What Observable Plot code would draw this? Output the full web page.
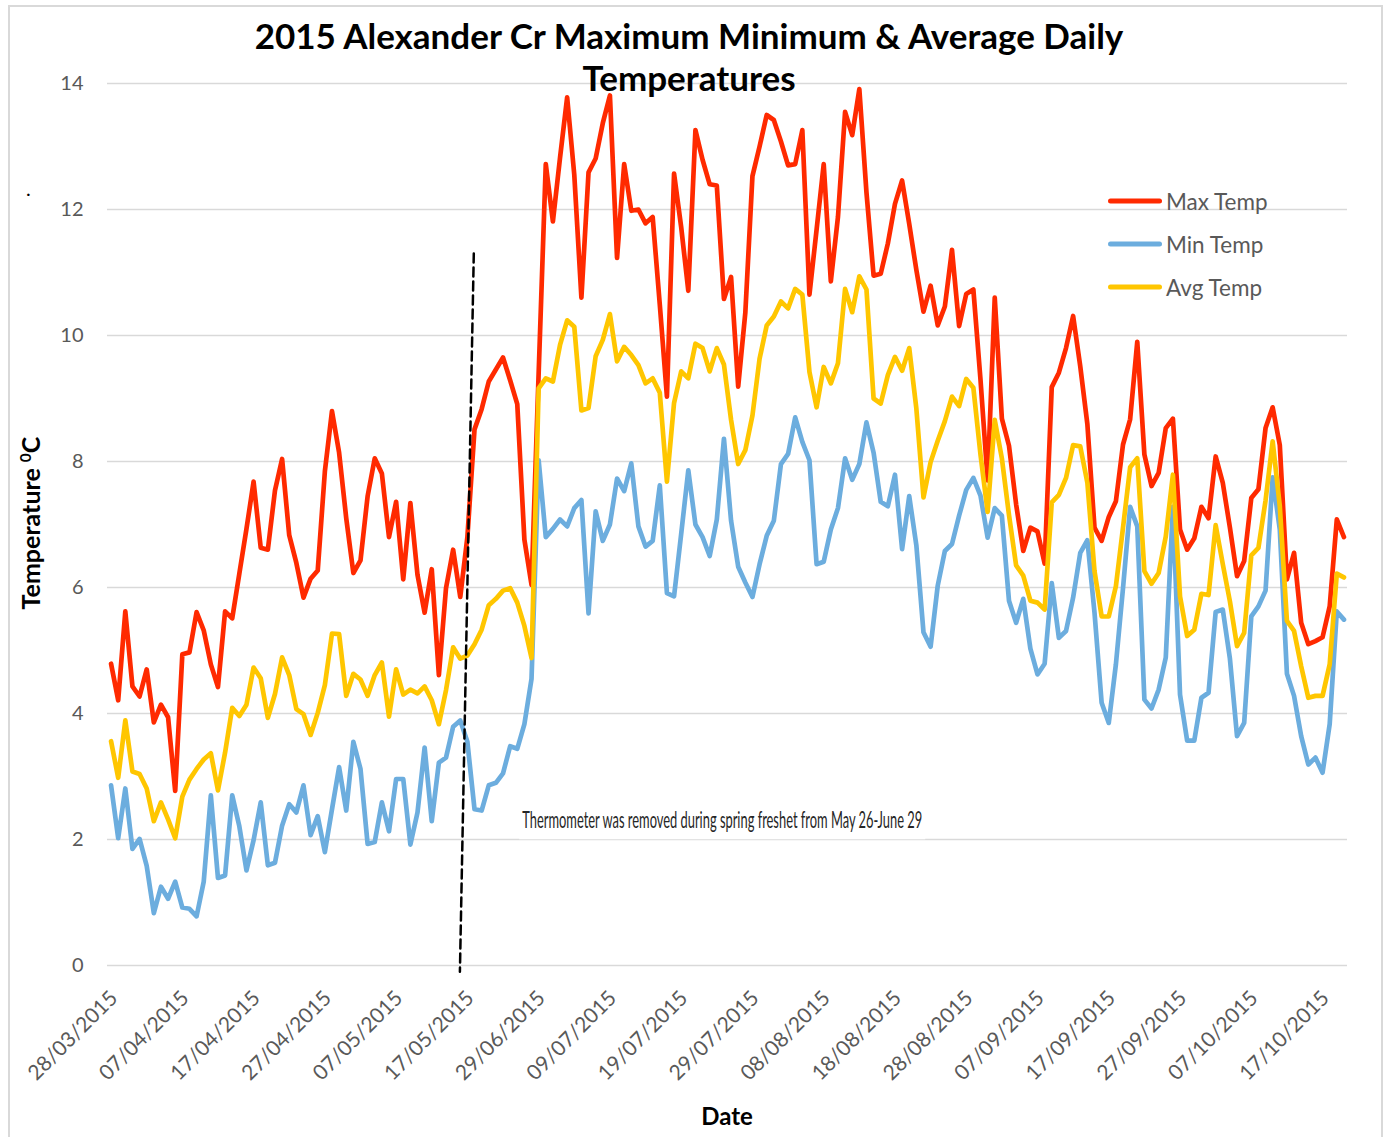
<!DOCTYPE html>
<html>
<head>
<meta charset="utf-8">
<script src="https://cdn.jsdelivr.net/npm/d3@7"></script>
<script src="https://cdn.jsdelivr.net/npm/@observablehq/plot@0.6"></script>
<style>
  body { margin: 0; background: #fff; }
  #wrap { position: relative; width: 1386px; height: 1137px; overflow: hidden; font-family: Lato, "Open Sans", sans-serif; background: #fff; }
  #border { position: absolute; left: 8px; top: 5px; width: 1375px; height: 1160px; border: 2px solid #d9d9d9; box-sizing: border-box; }
  #chart { position: absolute; left: 0; top: 0; }
  #title { position: absolute; left: 0; top: 14px; width: 1378px; text-align: center; font-weight: 700; font-size: 35px; line-height: 42px; color: #000; }
  #ytitle { position: absolute; left: 30px; top: 523px; transform: translate(-50%, -50%) rotate(-90deg); white-space: nowrap; font-weight: 700; font-size: 25px; color: #000; }
  #ytitle sup { font-size: 0.62em; vertical-align: 0.55em; }
  #xtitle { position: absolute; left: 727px; top: 1115px; transform: translate(-50%, -50%); font-weight: 700; font-size: 24px; color: #000; }
  #dot { position: absolute; left: 26px; top: 178px; font-size: 20px; line-height: 20px; color: #000; }
  .leg { position: absolute; left: 1108px; transform: translateY(-50%); display: flex; align-items: center; }
  .sw { display: inline-block; width: 54px; height: 5px; border-radius: 3px; }
  .lt { margin-left: 4px; font-size: 22.5px; color: #595959; }
</style>
</head>
<body>
<div id="wrap">
  <div id="border"></div>
  <div id="chart"></div>
  <div id="title">2015 Alexander Cr Maximum Minimum &amp; Average Daily<br>Temperatures</div>
  <div id="ytitle">Temperature <sup>0</sup>C</div>
  <div id="xtitle">Date</div>
  <div id="dot">.</div>
  <div id="legend"></div>
</div>
<script>
// ---- Categories: daily dates (gap while thermometer removed, May 27 - June 28)
const dateRanges = [["2015-03-28", "2015-05-26"], ["2015-06-29", "2015-10-20"]];
const fmt = d3.utcFormat("%d/%m/%Y");
const dates = dateRanges.flatMap(([a, b]) =>
  d3.utcDay.range(new Date(a + "T00:00Z"), d3.utcDay.offset(new Date(b + "T00:00Z"), 1))
).map(fmt);

const tickLabels = ["28/03/2015","07/04/2015","17/04/2015","27/04/2015","07/05/2015","17/05/2015",
  "29/06/2015","09/07/2015","19/07/2015","29/07/2015","08/08/2015","18/08/2015","28/08/2015",
  "07/09/2015","17/09/2015","27/09/2015","07/10/2015","17/10/2015"];
const yTicks = [0, 2, 4, 6, 8, 10, 12, 14];

// ---- Series values (°C)
const maxTemp = [
  4.79,4.21,5.62,4.43,4.27,4.70,3.86,4.14,3.94,2.77,
  4.94,4.97,5.61,5.32,4.78,4.42,5.62,5.51,6.22,6.93,
  7.68,6.63,6.60,7.54,8.04,6.83,6.39,5.84,6.14,6.27,
  7.84,8.80,8.14,7.10,6.23,6.43,7.45,8.05,7.81,6.80,
  7.36,6.13,7.34,6.20,5.60,6.29,4.61,5.99,6.60,5.85,
  6.80,8.51,8.83,9.27,9.46,9.65,9.29,8.91,6.76,6.04,
  9.40,12.72,11.81,12.82,13.78,12.55,10.60,12.59,12.81,13.37,
  13.81,11.23,12.72,11.98,12.00,11.78,11.88,10.49,9.03,12.57,
  11.72,10.71,13.26,12.79,12.40,12.38,10.58,10.93,9.19,10.36,
  12.53,13.00,13.50,13.42,13.08,12.70,12.72,13.26,10.65,11.68,
  12.72,10.86,11.88,13.55,13.18,13.91,12.27,10.95,10.98,11.46,
  12.09,12.46,11.77,11.04,10.38,10.79,10.16,10.46,11.36,10.15,
  10.66,10.73,9.30,7.70,10.60,8.68,8.25,7.32,6.58,6.95,
  6.89,6.38,9.18,9.41,9.80,10.31,9.51,8.59,6.95,6.74,
  7.12,7.37,8.27,8.67,9.90,8.11,7.61,7.82,8.53,8.68,
  6.92,6.60,6.78,7.28,7.10,8.08,7.66,6.95,6.18,6.42,
  7.42,7.56,8.53,8.86,8.26,6.13,6.55,5.44,5.10,5.15,
  5.21,5.70,7.08,6.80
];
const minTemp = [
  2.86,2.02,2.81,1.85,2.01,1.58,0.83,1.25,1.06,1.33,
  0.92,0.90,0.78,1.33,2.70,1.39,1.43,2.70,2.21,1.51,
  1.99,2.59,1.59,1.63,2.22,2.56,2.43,2.86,2.07,2.37,
  1.80,2.48,3.15,2.46,3.55,3.12,1.93,1.96,2.59,2.13,
  2.96,2.96,1.92,2.43,3.46,2.29,3.22,3.30,3.79,3.89,
  3.55,2.48,2.46,2.86,2.90,3.05,3.48,3.44,3.83,4.55,
  8.02,6.80,6.93,7.08,6.97,7.26,7.39,5.59,7.21,6.74,
  7.00,7.73,7.53,7.97,6.97,6.65,6.74,7.62,5.91,5.86,
  6.85,7.86,7.00,6.80,6.50,7.08,8.36,7.06,6.33,6.08,
  5.85,6.37,6.82,7.06,7.96,8.12,8.70,8.31,8.02,6.37,
  6.41,6.92,7.26,8.05,7.71,7.96,8.62,8.14,7.36,7.29,
  7.79,6.61,7.45,6.67,5.29,5.06,6.03,6.58,6.69,7.14,
  7.55,7.74,7.46,6.79,7.26,7.14,5.79,5.44,5.82,5.03,
  4.62,4.79,6.07,5.20,5.31,5.84,6.55,6.75,5.60,4.17,
  3.85,4.78,5.99,7.28,6.97,4.22,4.08,4.38,4.89,7.28,
  4.30,3.57,3.57,4.25,4.33,5.61,5.65,4.87,3.64,3.85,
  5.54,5.70,5.95,7.75,6.92,4.63,4.28,3.64,3.19,3.30,
  3.06,3.83,5.62,5.49
];
const avgTemp = [
  3.56,2.98,3.89,3.08,3.04,2.81,2.29,2.59,2.32,2.02,
  2.68,2.95,3.12,3.27,3.37,2.78,3.38,4.09,3.96,4.14,
  4.73,4.56,3.93,4.31,4.89,4.61,4.07,3.99,3.66,4.01,
  4.45,5.27,5.26,4.28,4.63,4.54,4.28,4.61,4.81,3.95,
  4.70,4.30,4.38,4.32,4.43,4.21,3.83,4.37,5.05,4.87,
  4.92,5.10,5.33,5.72,5.82,5.95,5.99,5.76,5.39,4.88,
  9.16,9.32,9.27,9.85,10.24,10.14,8.81,8.85,9.67,9.93,
  10.34,9.59,9.82,9.69,9.53,9.24,9.32,9.09,7.68,8.93,
  9.43,9.32,9.87,9.80,9.43,9.80,9.54,8.66,7.96,8.18,
  8.73,9.63,10.16,10.30,10.54,10.43,10.74,10.65,9.42,8.86,
  9.50,9.24,9.56,10.74,10.37,10.94,10.73,9.00,8.92,9.37,
  9.66,9.44,9.80,8.84,7.43,7.99,8.33,8.64,9.03,8.88,
  9.31,9.17,8.11,7.20,8.66,8.05,7.15,6.35,6.19,5.79,
  5.76,5.65,7.35,7.47,7.74,8.26,8.24,7.66,6.26,5.54,
  5.54,6.02,6.95,7.91,8.05,6.26,6.06,6.23,6.81,7.79,
  5.86,5.23,5.33,5.90,5.88,6.99,6.37,5.78,5.07,5.28,
  6.51,6.63,7.38,8.32,7.29,5.47,5.31,4.75,4.25,4.28,
  4.28,4.78,6.22,6.16
];

const seriesNames = ["Max Temp", "Min Temp", "Avg Temp"];
const seriesColors = ["#ff2a00", "#6cadde", "#ffc600"];

// annotation: removal-period marker (category positions) and note
const markerLine = [{pos: 50.9, temp: 11.3}, {pos: 48.95, temp: -0.1}];
const noteText = "Thermometer was removed during spring freshet from May 26-June 29";
const note = [{pos: 57.7, temp: 2.3, text: noteText}];

const data = dates.map((d, i) => ({pos: i, date: d, max: maxTemp[i], min: minTemp[i], avg: avgTemp[i]}));
const tickData = tickLabels.map(t => ({pos: dates.indexOf(t), label: t}));
const keys = ["max", "min", "avg"];

const chart = Plot.plot({
  width: 1386,
  height: 1137,
  marginLeft: 107,
  marginRight: 39,
  marginTop: 83,
  marginBottom: 172,
  style: {fontFamily: "Lato, 'Open Sans', sans-serif", background: "transparent", overflow: "visible"},
  x: {type: "linear", domain: [-0.5, dates.length - 0.5], axis: null},
  y: {domain: [0, 14], axis: null},
  marks: [
    Plot.ruleY(yTicks, {stroke: "#d9d9d9", strokeWidth: 1.6}),
    Plot.axisY({ticks: yTicks, tickSize: 0, tickPadding: 24, fontSize: 20, fill: "#595959", label: null}),
    Plot.text(tickData, {x: "pos", y: () => 0, text: "label", rotate: -45, textAnchor: "end",
      lineAnchor: "middle", dx: 3, dy: 29, fontSize: 21, fill: "#595959"}),
    ...keys.map((k, j) => Plot.line(data, {x: "pos", y: k, stroke: seriesColors[j], strokeWidth: 4.7,
      strokeLinejoin: "round", strokeLinecap: "round"})),
    Plot.line(markerLine, {x: "pos", y: "temp", stroke: "#000", strokeWidth: 2.5, strokeDasharray: "9,5"}),
    Plot.text(note, {x: "pos", y: "temp", text: "text", fontSize: 24, fill: "#262626", lineAnchor: "middle", textAnchor: "start"})
  ]
});
document.getElementById("chart").appendChild(chart);

// compress the note like the original text box and give it a white background
const svg = chart.tagName.toLowerCase() === "svg" ? chart : chart.querySelector("svg");
const noteEl = Array.from(svg.querySelectorAll("text")).find(t => t.textContent === noteText);
if (noteEl) {
  noteEl.setAttribute("textLength", 400);
  noteEl.setAttribute("lengthAdjust", "spacingAndGlyphs");
  const sb = svg.getBoundingClientRect();
  const b = noteEl.getBoundingClientRect();
  const rect = document.createElementNS("http://www.w3.org/2000/svg", "rect");
  rect.setAttribute("x", b.left - sb.left - 3);
  rect.setAttribute("y", b.top - sb.top - 2);
  rect.setAttribute("width", b.width + 6);
  rect.setAttribute("height", b.height + 8);
  rect.setAttribute("fill", "#fff");
  const g = noteEl.closest("g");
  g.parentNode.insertBefore(rect, g);
}

// legend
const legend = document.getElementById("legend");
seriesNames.forEach((name, j) => {
  const item = document.createElement("div");
  item.className = "leg";
  item.style.top = (201 + j * 43) + "px";
  item.innerHTML = `<span class="sw" style="background:${seriesColors[j]}"></span><span class="lt">${name}</span>`;
  legend.appendChild(item);
});
</script>
</body>
</html>
